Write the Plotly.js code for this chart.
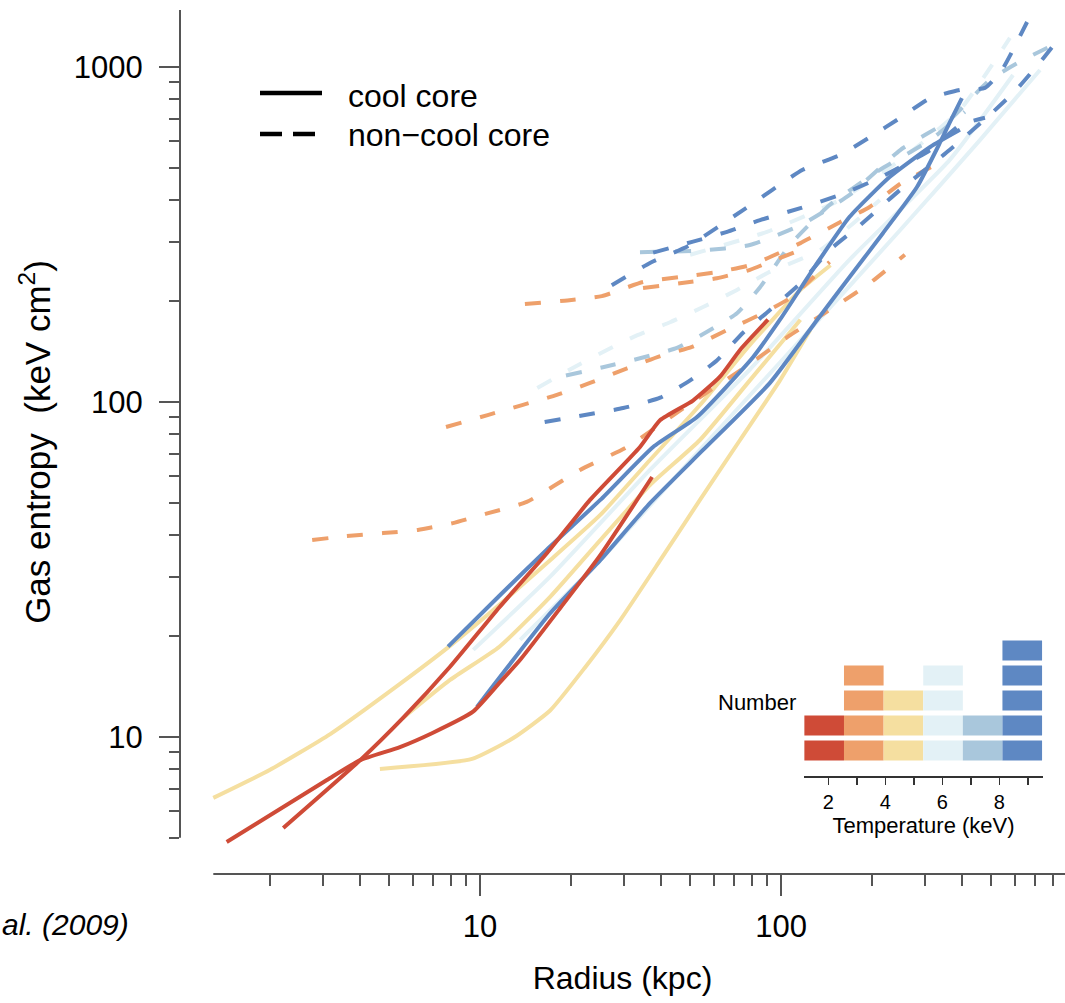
<!DOCTYPE html>
<html>
<head>
<meta charset="utf-8">
<script src="https://cdn.plot.ly/plotly-3.0.1.min.js"></script>
<style>
html, body { margin: 0; padding: 0; background: #ffffff; }
#chart { width: 1065px; height: 1003px; }
</style>
</head>
<body>
<div id="chart"></div>
<script>
// ---------------- data ----------------
// Temperature histogram (inset)
const binColors = ['#CF4B37', '#EEA06B', '#F5DFA0', '#E3F1F6', '#A9C7DC', '#5E88C3'];
const tempBinCenters = [1.855, 3.245, 4.635, 6.025, 7.415, 8.805];
const tempBinWidth = 1.39;
const clusterCounts = [2, 4, 3, 4, 2, 5];
const tempTickVals = [2, 4, 6, 8];
const tempMinorTicks = [3, 5, 7, 9];

// Entropy profiles: temperature bin index, cool core flag, radius (kpc), entropy (keV cm^2)
const profileBin = [3, 3, 3, 3, 2, 2, 2, 4, 4, 1, 1, 1, 1, 5, 5, 5, 5, 5, 0, 0];
const profileCoolCore = [true, true, false, false, true, true, true, false, false, false,
                         false, false, false, false, false, false, true, true, true, true];
const profileRadius = [
  [9.5, 17.1, 36.7, 78.8, 169, 363, 590],
  [13.6, 25.1, 53.8, 116, 249, 458, 725],
  [15.5, 19.9, 26.4, 33.2, 42.8, 55.1, 71.4, 90.5, 135, 213],
  [49.9, 89.8, 157, 249, 393, 576],
  [1.30, 2.0, 3.18, 5.42, 7.95, 11.6, 17.1, 25.1, 36.7, 53.8, 78.8, 116, 146],
  [5.55, 7.95, 11.6, 17.1, 25.1, 36.7, 53.8, 78.8, 116],
  [4.65, 9.41, 12.9, 17.1, 22.3, 29.2, 39.7, 53.8, 73.1, 99.2, 125],
  [34.0, 53.8, 78.8, 116, 169, 249, 363, 494, 637, 826],
  [19.3, 25.6, 34.0, 45.1, 56.8, 71.4, 85.2, 107, 145, 213, 313, 408],
  [2.77, 3.61, 4.76, 6.22, 8.13, 10.5, 14.3, 21.5, 30.8, 48.0, 75.9, 107, 157, 197, 258],
  [7.71, 10.6, 13.8, 18.0, 23.2, 30.8, 39.7, 50.6, 66.2, 83.9, 107, 145],
  [14.1, 19.5, 25.4, 34.8, 46.2, 61.2, 78.8, 90.5, 116, 157, 197, 249, 325],
  [34.8, 46.2, 61.2, 78.8, 91.9, 116],
  [16.4, 22.3, 29.9, 39.7, 49.9, 61.2, 74.8, 90.5, 116, 145, 183, 249, 363, 494, 608, 736, 865],
  [27.4, 36.7, 49.9, 74.8, 118, 157, 198, 249, 313, 393, 476, 542, 657],
  [37.6, 51.0, 66.2, 85.2, 116, 157, 213, 313, 393, 476],
  [7.83, 11.6, 16.7, 25.1, 37.6, 52.6, 80.7, 99.2, 132, 169, 230, 313, 393],
  [9.77, 17.1, 25.1, 36.7, 55.1, 91.9, 132, 169, 218, 283, 337, 363, 399],
  [1.44, 3.1, 4.0, 5.42, 6.98, 9.48, 11.6, 13.6, 18.5, 25.1, 37.3],
  [2.22, 4.0, 5.55, 7.95, 11.6, 16.7, 23.2, 34.0, 39.7, 51.0, 62.7, 73.1, 90.5]
];
const profileEntropy = [
  [18.2, 30.1, 62.7, 125, 266, 527, 946],
  [19.5, 33.7, 71.9, 153, 326, 605, 979],
  [110, 125, 143, 158, 173, 192, 216, 243, 284, 401],
  [275, 322, 401, 527, 744, 1221],
  [6.58, 7.97, 10.2, 14.4, 18.7, 24.8, 33.7, 46.0, 67.1, 97.9, 148, 216, 256],
  [11.4, 14.8, 18.6, 26.2, 38.7, 56.5, 77.0, 116, 176],
  [8.03, 8.60, 9.93, 12.0, 16.1, 22.3, 33.7, 51.0, 77.0, 116, 164],
  [280, 283, 294, 337, 415, 565, 695, 915, 1049, 1179],
  [120, 127, 135, 145, 162, 184, 220, 294, 387, 493, 605, 735],
  [38.7, 39.8, 40.6, 41.5, 43.5, 46.4, 50.3, 62.7, 73.4, 96.6, 127, 158, 197, 226, 275],
  [84.2, 91.4, 97.9, 105, 114, 126, 137, 146, 164, 181, 204, 262],
  [196, 201, 207, 228, 236, 244, 256, 269, 298, 344, 382, 448, 510],
  [219, 226, 234, 248, 262, 284],
  [87.1, 91.4, 95.9, 103, 116, 133, 161, 186, 226, 284, 337, 430, 565, 719, 859, 1049, 1263],
  [223, 260, 294, 374, 493, 546, 618, 705, 807, 854, 866, 980, 1362],
  [279, 301, 322, 349, 379, 415, 467, 565, 671, 705],
  [18.6, 26.4, 36.3, 51.0, 73.4, 90.2, 136, 176, 260, 357, 470, 577, 649],
  [12.3, 23.4, 33.7, 49.9, 71.9, 114, 176, 236, 319, 438, 593, 681, 807],
  [4.86, 7.44, 8.53, 9.33, 10.3, 11.9, 14.5, 17.0, 24.3, 34.9, 59.7],
  [5.35, 8.53, 11.4, 16.2, 24.4, 35.4, 51.0, 73.4, 88.3, 101, 119, 143, 176]
];

// Axis ticks
const xMajorTicks = [10, 100];
const xMinorTicks = [2, 3, 4, 5, 6, 7, 8, 9, 20, 30, 40, 50, 60, 70, 80, 90, 200, 300, 400, 500, 600, 700, 800, 900];
const yMajorTicks = [10, 100, 1000];
const yMinorTicks = [5, 6, 7, 8, 9, 20, 30, 40, 50, 60, 70, 80, 90, 200, 300, 400, 500, 600, 700, 800, 900];
const legendNames = ['cool core', 'non\u2212cool core'];

// ---------------- layout constants ----------------
const W = 1065, H = 1003;
const M = { l: 180, r: 0, t: 10, b: 129 };
const plotW = W - M.l - M.r, plotH = H - M.t - M.b;
const xRange = [0.0033, 2.9435];   // log10 kpc
const yRange = [0.591, 3.170];     // log10 keV cm^2
const xLineStart = 1.30;           // where the drawn x-axis line begins (kpc)
const yLineStart = 5;              // where the drawn y-axis line begins
const FONT = '"Liberation Sans", Arial, Helvetica, sans-serif';
const axisGrey = '#555555';

function px2paperX(px) { return (px - M.l) / plotW; }
function px2paperY(py) { return (H - M.b - py) / plotH; }

// ---------------- traces ----------------
const traces = [];
profileRadius.forEach((r, i) => {
  traces.push({
    type: 'scatter', mode: 'lines',
    x: r, y: profileEntropy[i],
    name: (profileCoolCore[i] ? legendNames[0] : legendNames[1]),
    line: {
      color: binColors[profileBin[i]],
      width: 4,
      dash: profileCoolCore[i] ? 'solid' : '16px,19px',
      shape: 'spline', smoothing: 0.5
    },
    showlegend: false, hoverinfo: 'skip'
  });
});

// inset histogram as stacked blocks
const maxCount = Math.max(...clusterCounts);
for (let level = 0; level < maxCount; level++) {
  const xs = [], cols = [];
  clusterCounts.forEach((c, i) => {
    if (c > level) { xs.push(tempBinCenters[i]); cols.push(binColors[i]); }
  });
  traces.push({
    type: 'bar', x: xs, y: xs.map(() => 0.8), base: level + 0.1,
    width: tempBinWidth,
    marker: { color: cols, line: { width: 0 } },
    xaxis: 'x2', yaxis: 'y2', showlegend: false, hoverinfo: 'skip'
  });
}

// legend key (line style only), drawn in paper space
const legendKeys = [
  { y: 93, dash: 'solid', label: legendNames[0], ty: 96 },
  { y: 134, dash: '22px,11px', label: legendNames[1], ty: 135 }
];
const legendShapes = legendKeys.map(k => ({
  type: 'line', xref: 'paper', yref: 'paper',
  x0: px2paperX(260), x1: px2paperX(322), y0: px2paperY(k.y), y1: px2paperY(k.y),
  line: { color: '#000000', width: 4.5, dash: k.dash }
}));
const legendTexts = legendKeys.map(k => ({
  text: k.label, xref: 'paper', yref: 'paper', x: px2paperX(346), y: px2paperY(k.ty),
  xanchor: 'left', yanchor: 'middle', showarrow: false,
  font: { family: FONT, size: 32, color: '#000000' }
}));

// ---------------- layout ----------------
const layout = {
  width: W, height: H,
  margin: M,
  paper_bgcolor: '#ffffff', plot_bgcolor: 'rgba(0,0,0,0)',
  font: { family: FONT, color: '#000000' },
  barmode: 'overlay',
  showlegend: false,
  xaxis: {
    type: 'log', range: xRange, showline: false, zeroline: false, showgrid: false,
    ticks: 'outside', tickmode: 'array', tickvals: xMajorTicks, ticktext: xMajorTicks.map(String),
    ticklen: 21, tickwidth: 2, tickcolor: axisGrey,
    tickfont: { family: FONT, size: 31, color: '#000000' },
    ticklabelstandoff: 4,
    minor: { tickmode: 'array', tickvals: xMinorTicks, ticks: 'outside', ticklen: 11, tickwidth: 2, tickcolor: axisGrey, showgrid: false },
    title: { text: 'Radius (kpc)', font: { family: FONT, size: 32, color: '#000000' }, standoff: 23 },
    automargin: false, fixedrange: true
  },
  yaxis: {
    type: 'log', range: yRange, showline: false, zeroline: false, showgrid: false,
    ticks: 'outside', tickmode: 'array', tickvals: yMajorTicks, ticktext: yMajorTicks.map(String),
    ticklen: 20, tickwidth: 2, tickcolor: axisGrey,
    tickfont: { family: FONT, size: 31, color: '#000000' },
    ticklabelstandoff: 10,
    minor: { tickmode: 'array', tickvals: yMinorTicks, ticks: 'outside', ticklen: 10, tickwidth: 2, tickcolor: axisGrey, showgrid: false },
    title: { text: 'Gas entropy\u00A0 (keV cm<sup>2</sup>)', font: { family: FONT, size: 35, color: '#000000' }, standoff: 12 },
    automargin: false, fixedrange: true
  },
  xaxis2: {
    domain: [px2paperX(804), px2paperX(1043)], anchor: 'y2',
    range: [1.147, 9.533], showline: true, linecolor: '#333333', linewidth: 2,
    zeroline: false, showgrid: false,
    ticks: 'outside', ticklen: 7, tickwidth: 1.5, tickcolor: '#333333',
    tickmode: 'array', tickvals: tempTickVals, ticktext: tempTickVals.map(String),
    minor: { tickmode: 'array', tickvals: tempMinorTicks, ticks: 'outside', ticklen: 7, tickwidth: 1.5, tickcolor: '#333333', showgrid: false },
    tickfont: { family: FONT, size: 20, color: '#000000' },
    ticklabelstandoff: 0,
    title: { text: 'Temperature (keV)', font: { family: FONT, size: 22, color: '#000000' }, standoff: 3 },
    automargin: false, fixedrange: true
  },
  yaxis2: {
    visible: false,
    domain: [px2paperY(775.7), px2paperY(625)], anchor: 'x2',
    range: [-0.508, 5.52], fixedrange: true
  },
  shapes: [
    // detached y-axis line
    { type: 'line', xref: 'paper', yref: 'y', x0: 0, x1: 0, y0: yLineStart, y1: Math.pow(10, yRange[1]),
      line: { color: axisGrey, width: 2 } },
    // detached x-axis line
    { type: 'line', xref: 'x', yref: 'paper', x0: xLineStart, x1: Math.pow(10, xRange[1]), y0: 0, y1: 0,
      line: { color: axisGrey, width: 2 } }
  ].concat(legendShapes),
  annotations: [
    { text: 'al. (2009)', xref: 'paper', yref: 'paper', x: px2paperX(0), y: px2paperY(925),
      xanchor: 'left', yanchor: 'middle', showarrow: false,
      font: { family: FONT, size: 30, color: '#000000', style: 'italic' } },
    { text: 'Number', xref: 'paper', yref: 'paper', x: px2paperX(798), y: px2paperY(702),
      xanchor: 'right', yanchor: 'middle', showarrow: false,
      font: { family: FONT, size: 22, color: '#000000' } }
  ].concat(legendTexts)
};

Plotly.newPlot('chart', traces, layout, { displayModeBar: false, staticPlot: true });
</script>
</body>
</html>
